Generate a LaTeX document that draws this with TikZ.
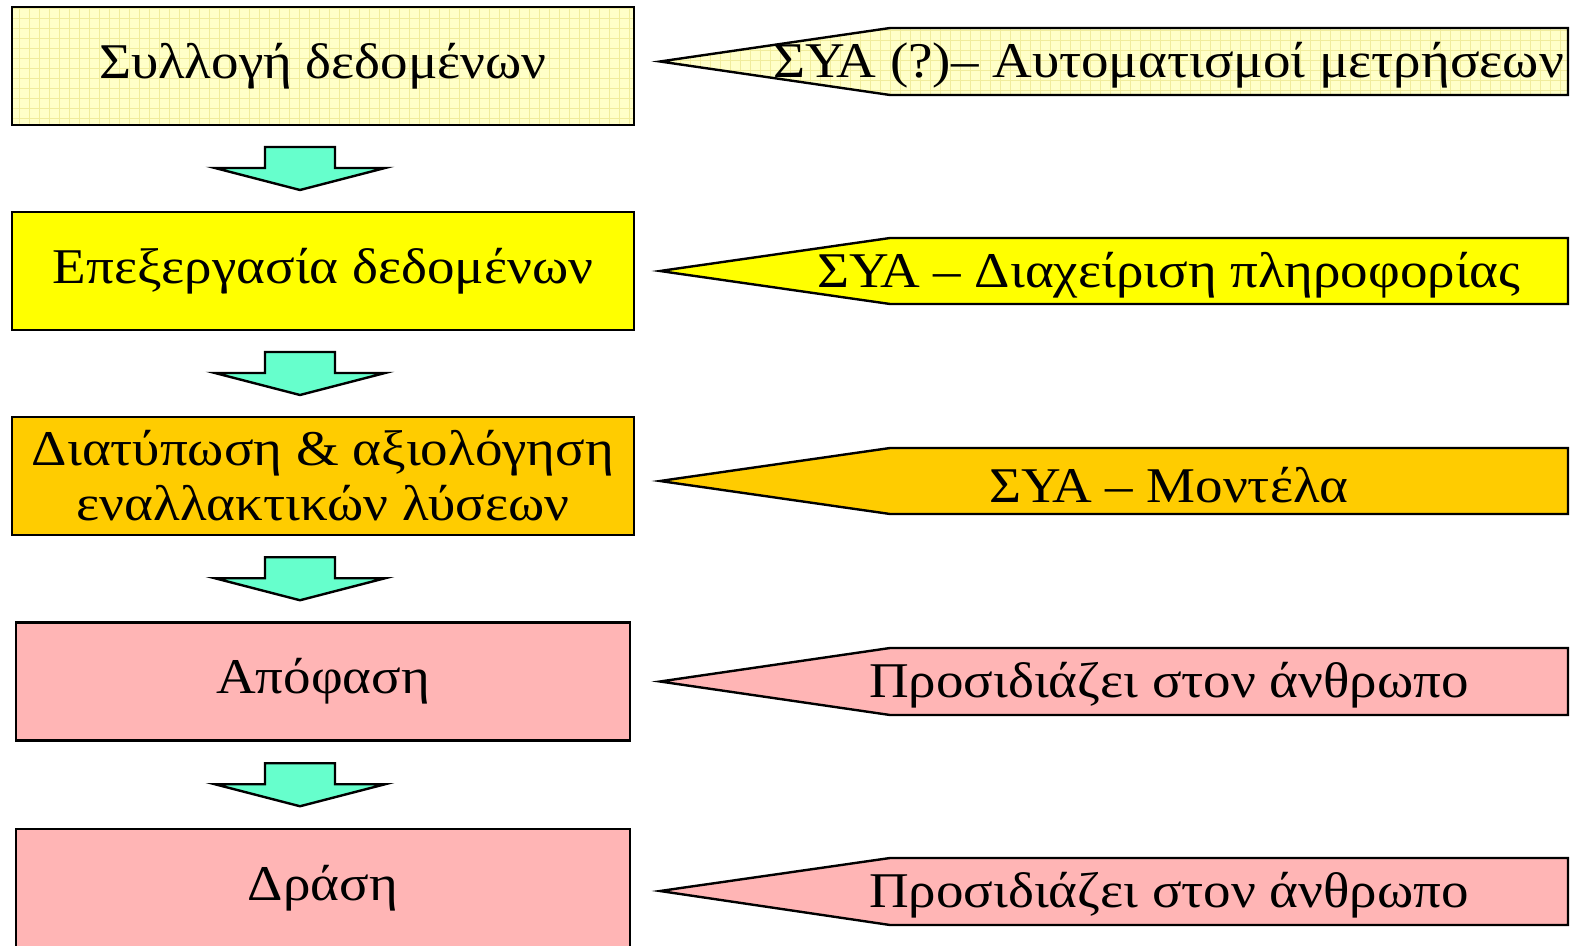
\documentclass[tikz,border=0pt]{standalone}
\usepackage{fontspec}
\setmainfont[FakeStretch=1.1]{Liberation Serif}
\usepackage{xcolor}
\definecolor{paleyel}{HTML}{FFFFC8}
\definecolor{gridyel}{HTML}{F0EC9C}
\definecolor{brightyel}{HTML}{FFFF00}
\definecolor{amber}{HTML}{FFCC00}
\definecolor{rose}{HTML}{FFB5B5}
\definecolor{mint}{HTML}{66FFCC}
\usepackage{tikz}
\usetikzlibrary{calc}
% block arrow between two stage boxes
\newcommand{\flowarrow}[2]{%
  \draw[flowarr] ($(#1.south)!0.5!(#2.north)+(-58,-21.5)$) -- ++(70,0) -- ++(0,21)
    -- ++(50,0) -- ++(-85,22) -- ++(-85,-22) -- ++(50,0) -- cycle;}

\begin{document}
\begin{tikzpicture}[x=0.5pt, y=-0.5pt,
    stage/.style={rectangle, draw=black, line width=1.2pt, minimum width=311pt, minimum height=59pt,
      inner sep=0pt, align=center, font=\fontsize{25}{27.5}\selectfont},
    gridded/.style={path picture={\draw[gridyel, line width=0.4pt]
      (path picture bounding box.south west) grid[step=5pt] (path picture bounding box.north east);}},
    tag/.style={draw=black, line width=1.2pt, line join=miter},
    tagtext/.style={inner sep=0pt, yshift=-2pt, font=\fontsize{25}{27.5}\selectfont},
    flowarr/.style={draw=black, fill=mint, line width=1.2pt, line join=miter}
  ]
    \useasboundingbox (0,0) rectangle (1573,946);

    % stages
    \node[stage, fill=paleyel, gridded] (b1) at (323,66) {Συλλογή δεδομένων};
    \node[stage, fill=brightyel] (b2) at (323,271) {Επεξεργασία δεδομένων};
    \node[stage, fill=amber] (b3) at (323,476) {Διατύπωση \& αξιολόγηση\\εναλλακτικών λύσεων};
    \node[stage, fill=rose, minimum width=307pt] (b4) at (323,681.5) {Απόφαση};
    \node[stage, fill=rose, minimum width=307pt] (b5) at (323,888) {Δράση};

    \flowarrow{b1}{b2}
    \flowarrow{b2}{b3}
    \flowarrow{b3}{b4}
    \flowarrow{b4}{b5}

    % tags on the right
    \draw[tag, fill=paleyel, gridded]
      (660,61.5) -- (890,28) -- (1568,28) -- (1568,95) -- (890,95) -- cycle;
    \node[tagtext] (t1) at (1169,61.5) {ΣΥΑ (?)– Αυτοματισμοί μετρήσεων};

    \draw[tag, fill=brightyel] (660,271) -- (890,238) -- (1568,238) -- (1568,304) -- (890,304) -- cycle;
    \node[tagtext] (t2) at (1169,271) {ΣΥΑ – Διαχείριση πληροφορίας};

    \draw[tag, fill=amber] (660,481) -- (890,448) -- (1568,448) -- (1568,514) -- (890,514) -- cycle;
    \node[tagtext] (t3) at (1169,481) {ΣΥΑ – Μοντέλα};

    \draw[tag, fill=rose] (660,681.5) -- (890,648) -- (1568,648) -- (1568,715) -- (890,715) -- cycle;
    \node[tagtext] (t4) at (1169,681.5) {Προσιδιάζει στον άνθρωπο};

    \draw[tag, fill=rose] (660,891) -- (890,858) -- (1568,858) -- (1568,925) -- (890,925) -- cycle;
    \node[tagtext] (t5) at (1169,891) {Προσιδιάζει στον άνθρωπο};
  \end{tikzpicture}
\end{document}
